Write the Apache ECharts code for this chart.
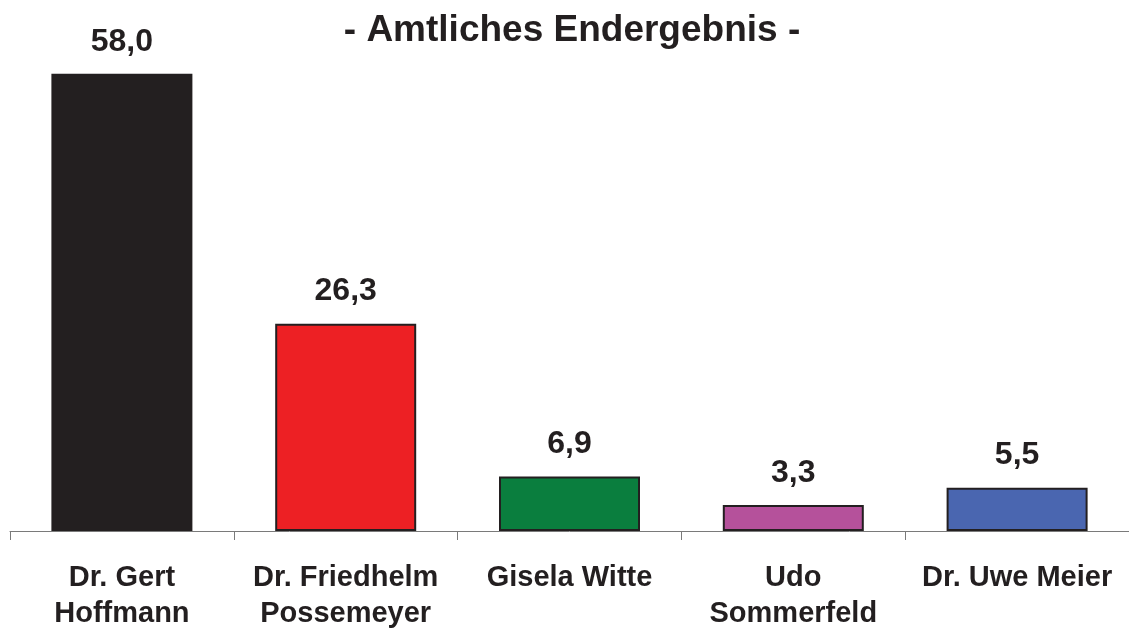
<!DOCTYPE html>
<html>
<head>
<meta charset="utf-8">
<script src="https://cdn.jsdelivr.net/npm/echarts@6/dist/echarts.min.js"></script>
<style>
html,body{margin:0;padding:0;background:#fff;}
#chart{width:1129px;height:630px;}
</style>
</head>
<body>
<div id="chart"></div>
<script>
const titleText = '- Amtliches Endergebnis -';
const categories = ['Dr. Gert\nHoffmann', 'Dr. Friedhelm\nPossemeyer', 'Gisela Witte', 'Udo\nSommerfeld', 'Dr. Uwe Meier'];
const values = [58.0, 26.3, 6.9, 3.3, 5.5];
const colors = ['#231f20', '#ed2024', '#0a7e3e', '#b5519b', '#4a66b0'];

const FONT = '"Liberation Sans", Arial, sans-serif';
const chart = echarts.init(document.getElementById('chart'), null, {renderer: 'canvas'});
chart.setOption({
  backgroundColor: '#ffffff',
  animation: false,
  title: {
    text: titleText,
    left: 567,
    textAlign: 'center',
    top: 7,
    textStyle: {fontFamily: FONT, fontWeight: 'bold', fontSize: 37, color: '#231f20'}
  },
  grid: {left: 10, right: 0, top: 58, bottom: 99, containLabel: false, outerBoundsMode: 'none'},
  xAxis: {
    type: 'category',
    data: categories,
    boundaryGap: true,
    axisLine: {show: true, lineStyle: {color: '#7a7a7a', width: 1}},
    axisTick: {show: true, length: 9, lineStyle: {color: '#7a7a7a'}},
    axisLabel: {
      interval: 0, margin: 29,
      fontFamily: FONT, fontWeight: 'bold', fontSize: 29, lineHeight: 36, color: '#231f20'
    }
  },
  yAxis: {
    type: 'value', min: 0, max: 60, show: false,
    splitLine: {show: false}
  },
  series: [{
    type: 'bar',
    barWidth: 141,
    data: values.map((v, i) => ({value: v, itemStyle: {color: colors[i]}})),
    itemStyle: {borderColor: '#231f20', borderWidth: 2},
    label: {
      show: true, position: 'top', distance: 16,
      formatter: p => p.value.toFixed(1).replace('.', ','),
      fontFamily: FONT, fontWeight: 'bold', fontSize: 32, color: '#231f20'
    }
  }]
});
</script>
</body>
</html>
